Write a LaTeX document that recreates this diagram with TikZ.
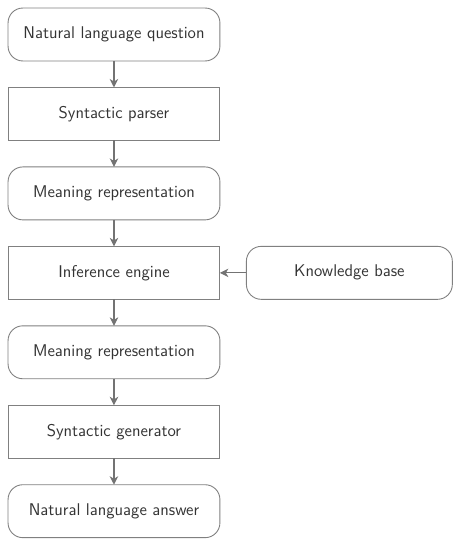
\documentclass[tikz,border=0pt]{standalone}
\usepackage{tikz}
\usetikzlibrary{arrows.meta, positioning}

\tikzset{
  base/.style={draw=black!50, line width=0.6pt, outer sep=0pt, text=black!80,
    font=\sffamily\fontsize{11.4pt}{13.5pt}\selectfont,
    minimum width=5cm, minimum height=1.25cm, align=center},
  datanode/.style={base, rounded corners=0.35cm},
  procnode/.style={base},
  flow/.style={-{Stealth[length=2mm, width=2mm, inset=0.6mm]}, draw=black!55, line width=0.7pt}
}

\begin{document}
\begin{tikzpicture}[node distance=0.625cm]
\useasboundingbox (0,0) rectangle (10.785,-12.744);
% Main pipeline
\node[datanode] (question) at (2.69,-0.814) {Natural language question};
\node[procnode, below=of question] (parser) {Syntactic parser};
\node[datanode, below=of parser] (meaningin) {Meaning representation};
\node[procnode, below=of meaningin] (engine) {Inference engine};
\node[datanode, below=of engine] (meaningout) {Meaning representation};
\node[procnode, below=of meaningout] (generator) {Syntactic generator};
\node[datanode, below=of generator] (answer) {Natural language answer};

% Side input
\node[datanode, minimum width=4.86cm, right=of engine] (kb) {Knowledge base};

% Connectors
\draw[flow] (question) -- (parser);
\draw[flow] (parser) -- (meaningin);
\draw[flow] (meaningin) -- (engine);
\draw[flow] (engine) -- (meaningout);
\draw[flow] (meaningout) -- (generator);
\draw[flow] (generator) -- (answer);
\draw[flow] (kb) -- (engine);
\end{tikzpicture}
\end{document}
